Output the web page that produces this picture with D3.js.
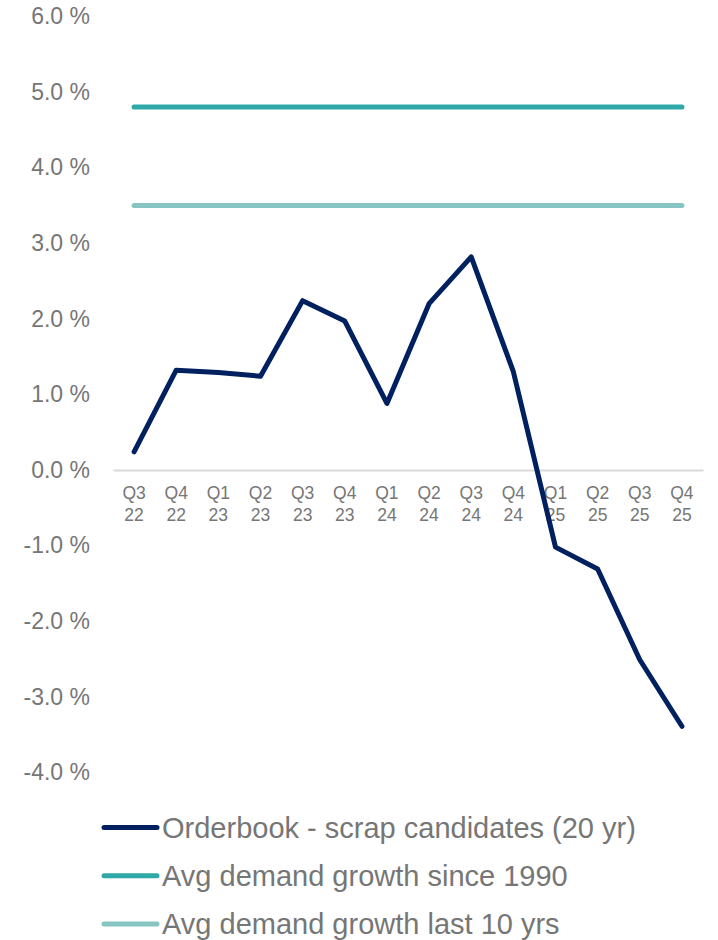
<!DOCTYPE html>
<html>
<head>
<meta charset="utf-8">
<script src="https://cdn.jsdelivr.net/npm/d3@7"></script>
<style>
  html, body { margin: 0; padding: 0; background: #ffffff; }
  svg { display: block; }
  text { font-family: "Liberation Sans", Arial, sans-serif; fill: #767676; }
</style>
</head>
<body>
<svg id="chart" width="718" height="940"></svg>
<script>
// Quarter labels (two lines each) and series values in percent
const quarters = ["Q3","Q4","Q1","Q2","Q3","Q4","Q1","Q2","Q3","Q4","Q1","Q2","Q3","Q4"];
const years    = ["22","22","23","23","23","23","24","24","24","24","25","25","25","25"];
const orderbookNet = [0.24, 1.32, 1.29, 1.24, 2.24, 1.97, 0.88, 2.20, 2.82, 1.30, -1.02, -1.31, -2.51, -3.39];
const avgSince1990 = 4.8;
const avgLast10 = 3.5;
const yTicks = [6, 5, 4, 3, 2, 1, 0, -1, -2, -3, -4];
const seriesNames = ["Orderbook - scrap candidates (20 yr)", "Avg demand growth since 1990", "Avg demand growth last 10 yrs"];
const seriesColors = ["#002060", "#2fa9a8", "#86c5c1"];

const svg = d3.select("#chart");
const categories = quarters.map((q, i) => q + " " + years[i]);

const x = d3.scaleBand().domain(categories).range([113, 703]);
const y = d3.scaleLinear().domain([-4, 6]).range([772.4, 16.4]);
const cx = c => x(c) + x.bandwidth() / 2;

// Y axis labels only (no line, no ticks)
const yAxis = svg.append("g")
  .attr("transform", "translate(90,0)")
  .call(d3.axisLeft(y).tickValues(yTicks).tickSize(0).tickPadding(0)
    .tickFormat(d => d.toFixed(1) + " %"));
yAxis.select(".domain").remove();
yAxis.selectAll("text")
  .attr("font-size", 23)
  .attr("fill", "#767676")
  .style("font-family", "'Liberation Sans', Arial, sans-serif");

// Category axis at zero
const xAxis = svg.append("g")
  .attr("transform", `translate(0,${y(0)})`)
  .call(d3.axisBottom(x).tickSize(0).tickFormat(() => ""));
xAxis.select(".domain").attr("stroke", "#d9d9d9").attr("stroke-width", 2);
xAxis.selectAll(".tick text").remove();
xAxis.selectAll(".tick").each(function(d, i) {
  const t = d3.select(this).append("text")
    .attr("text-anchor", "middle")
    .attr("font-size", 17.5)
    .attr("fill", "#767676")
    .style("font-family", "'Liberation Sans', Arial, sans-serif");
  t.append("tspan").attr("x", 0).attr("y", 29).text(quarters[i]);
  t.append("tspan").attr("x", 0).attr("y", 51).text(years[i]);
});

// Average reference lines
const refLines = [avgSince1990, avgLast10];
svg.selectAll(".ref")
  .data(refLines)
  .join("line")
  .attr("class", "ref")
  .attr("x1", cx(categories[0]))
  .attr("x2", cx(categories[categories.length - 1]))
  .attr("y1", d => y(d))
  .attr("y2", d => y(d))
  .attr("stroke", (d, i) => seriesColors[i + 1])
  .attr("stroke-width", 5)
  .attr("stroke-linecap", "round");

// Orderbook minus scrapping line
const line = d3.line()
  .x((d, i) => cx(categories[i]))
  .y(d => y(d));
svg.append("path")
  .datum(orderbookNet)
  .attr("d", line)
  .attr("fill", "none")
  .attr("stroke", seriesColors[0])
  .attr("stroke-width", 5)
  .attr("stroke-linejoin", "round")
  .attr("stroke-linecap", "round");

// Legend
const legend = svg.append("g");
const rows = legend.selectAll("g")
  .data(seriesNames)
  .join("g")
  .attr("transform", (d, i) => `translate(0,${827.5 + i * 48.2})`);
rows.append("line")
  .attr("x1", 104).attr("x2", 157)
  .attr("y1", 0).attr("y2", 0)
  .attr("stroke", (d, i) => seriesColors[i])
  .attr("stroke-width", 5)
  .attr("stroke-linecap", "round");
rows.append("text")
  .attr("x", 162)
  .attr("y", 0)
  .attr("dy", "0.35em")
  .attr("font-size", 29)
  .text(d => d);
</script>
</body>
</html>
